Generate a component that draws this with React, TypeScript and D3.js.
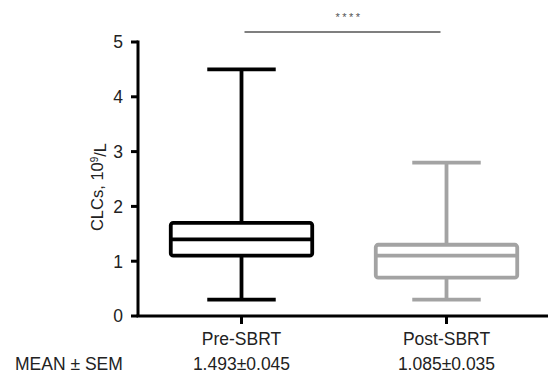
import React from "react";
import * as d3 from "d3";

// box summaries (10^9/L)
const groups = ["Pre-SBRT", "Post-SBRT"];
const mins = [0.3, 0.3];
const q1s = [1.1, 0.7];
const medians = [1.4, 1.1];
const q3s = [1.7, 1.3];
const maxs = [4.5, 2.8];
const meanSem = ["1.493±0.045", "1.085±0.035"];
const colors = ["#000000", "#a3a3a3"];
const yTicks = [0, 1, 2, 3, 4, 5];

const W = 548;
const H = 378;
const font = "'Liberation Sans', Arial, Helvetica, sans-serif";

export default function App() {
  const y = d3.scaleLinear().domain([0, 5]).range([316, 42]);
  const x = d3.scaleBand().domain(groups).range([139, 549]);
  const bw = x.bandwidth();
  const boxW = bw * 0.69;
  const capHalf = bw * 0.167;
  const axisX = 138;

  const boxes = groups.map((g, i) => ({
    g,
    min: mins[i],
    q1: q1s[i],
    med: medians[i],
    q3: q3s[i],
    max: maxs[i],
    color: colors[i],
    cx: (x(g) as number) + bw / 2,
  }));

  return (
    <div style={{ position: "absolute", left: 0, top: 0 }}>
      <svg width={W} height={H} style={{ display: "block" }} fontFamily={font}>
        <rect width={W} height={H} fill="#fff" />

        {/* boxes */}
        {boxes.map((b) => (
          <g key={b.g} stroke={b.color} strokeWidth={3.8} fill="none" strokeLinejoin="round">
            <line x1={b.cx} x2={b.cx} y1={y(b.max)} y2={y(b.q3)} />
            <line x1={b.cx} x2={b.cx} y1={y(b.q1)} y2={y(b.min)} />
            <line x1={b.cx - capHalf} x2={b.cx + capHalf} y1={y(b.max)} y2={y(b.max)} />
            <line x1={b.cx - capHalf} x2={b.cx + capHalf} y1={y(b.min)} y2={y(b.min)} />
            <rect x={b.cx - boxW / 2} y={y(b.q3)} width={boxW} height={y(b.q1) - y(b.q3)} rx={2.5} />
            <line x1={b.cx - boxW / 2} x2={b.cx + boxW / 2} y1={y(b.med)} y2={y(b.med)} />
          </g>
        ))}

        {/* y axis */}
        <line x1={axisX} x2={axisX} y1={y(5) - 1.5} y2={y(0)} stroke="#000" strokeWidth={3} />
        {yTicks.map((t) => (
          <g key={t}>
            <line x1={axisX - 7} x2={axisX} y1={y(t)} y2={y(t)} stroke="#000" strokeWidth={3} />
            <text x={axisX - 15} y={y(t)} dy="0.36em" textAnchor="end" fontSize={17.5} fill="#222">
              {t}
            </text>
          </g>
        ))}
        <text
          transform={`translate(103,${(y(0) + y(5)) / 2 + 8}) rotate(-90)`}
          textAnchor="middle"
          fontSize={16.5}
          fill="#222"
        >
          CLCs, 10
          <tspan dy="-0.5em" fontSize={10}>9</tspan>
          <tspan dy="0.5em">/L</tspan>
        </text>

        {/* x axis */}
        <line x1={axisX - 1.5} x2={W} y1={y(0)} y2={y(0)} stroke="#000" strokeWidth={3} />
        {boxes.map((b, i) => (
          <g key={b.g}>
            <line x1={b.cx} x2={b.cx} y1={y(0)} y2={y(0) + 8} stroke="#000" strokeWidth={3} />
            <text x={b.cx} y={345} textAnchor="middle" fontSize={17.5} fill="#222">
              {b.g}
            </text>
            <text x={b.cx} y={370} textAnchor="middle" fontSize={17.5} fill="#222">
              {meanSem[i]}
            </text>
          </g>
        ))}
        <text x={15} y={370} fontSize={17.5} fill="#222">
          MEAN ± SEM
        </text>

        {/* significance */}
        <line x1={boxes[0].cx + 3} x2={boxes[1].cx - 6} y1={32} y2={32} stroke="#000" strokeWidth={1.2} />
        <text
          x={(boxes[0].cx + boxes[1].cx) / 2 + 5}
          y={21}
          textAnchor="middle"
          fontSize={11}
          letterSpacing={2.5}
          fill="#555"
        >
          ****
        </text>
      </svg>
    </div>
  );
}
